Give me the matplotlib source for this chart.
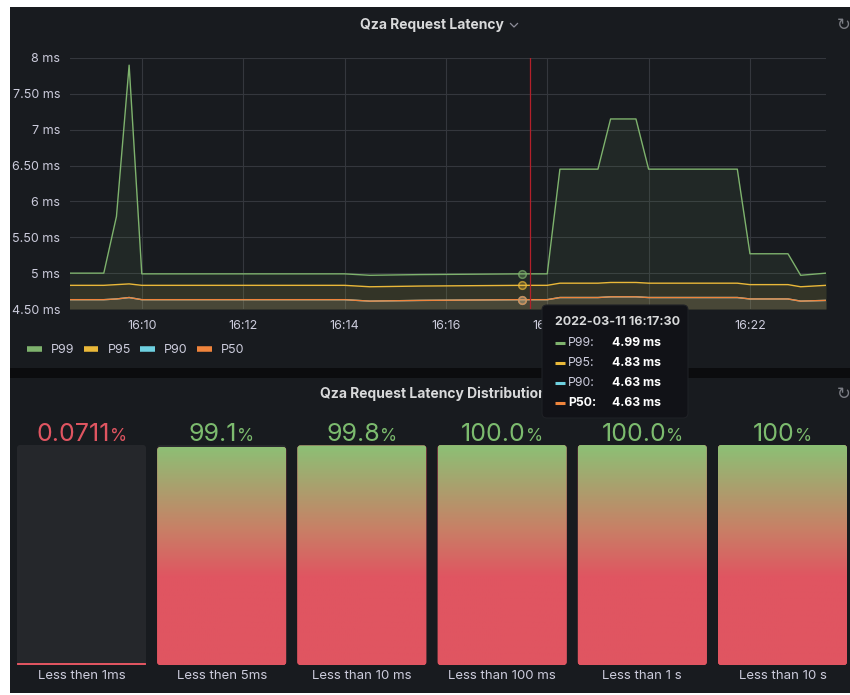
import numpy as np
import pandas as pd
import matplotlib
matplotlib.use("Agg")
import matplotlib.pyplot as plt
from matplotlib.patches import Rectangle, FancyBboxPatch
from matplotlib.lines import Line2D
from matplotlib.colors import LinearSegmentedColormap, to_rgba
import matplotlib.dates as mdates
from matplotlib.ticker import FuncFormatter, MultipleLocator

plt.rcParams['font.family'] = ['Inter', 'DejaVu Sans']

W, H = 850, 695

# --- data: latency percentiles (ms) ---
day = '2022-03-11'
times = ['16:08:30', '16:09:15', '16:09:30', '16:09:45', '16:10:00', '16:14:00',
         '16:14:30', '16:15:30', '16:17:30', '16:18:00', '16:18:15', '16:19:00',
         '16:19:15', '16:19:45', '16:20:00', '16:21:45', '16:22:00', '16:22:45',
         '16:23:00', '16:23:30']
p99 = [5.00, 5.00, 5.79, 7.90, 4.99, 4.99, 4.97, 4.98, 4.99, 4.99, 6.45, 6.45,
       7.15, 7.15, 6.45, 6.45, 5.27, 5.27, 4.97, 5.00]
p95 = [4.83, 4.83, 4.84, 4.85, 4.83, 4.83, 4.81, 4.82, 4.83, 4.83, 4.86, 4.86,
       4.87, 4.87, 4.86, 4.86, 4.84, 4.84, 4.81, 4.83]
p90 = [4.63, 4.63, 4.64, 4.66, 4.63, 4.63, 4.61, 4.62, 4.63, 4.63, 4.66, 4.66,
       4.67, 4.67, 4.66, 4.66, 4.64, 4.64, 4.61, 4.62]
p50 = [4.63, 4.63, 4.64, 4.66, 4.63, 4.63, 4.61, 4.62, 4.63, 4.63, 4.66, 4.66,
       4.67, 4.67, 4.66, 4.66, 4.64, 4.64, 4.61, 4.62]
series_names = ['P99', 'P95', 'P90', 'P50']
series_colors = ['#7eb26d', '#eab839', '#6ed0e0', '#ef843c']
view_start, view_end = '16:08:35', '16:23:30'
hover_time = '16:17:30'
annotation_time = '16:17:40'

# --- data: latency distribution (%) ---
bucket_labels = ['Less then 1ms', 'Less then 5ms', 'Less than 10 ms',
                 'Less than 100 ms', 'Less than 1 s', 'Less than 10 s']
bucket_percent = [0.0711, 99.1, 99.8, 99.96, 99.98, 100.0]
bucket_text = ['0.0711', '99.1', '99.8', '100.0', '100.0', '100']
threshold = 80

PANEL = '#181b1f'
TXT = '#ccccdc'
RED = '#e05561'
GREEN = '#7cbb6e'


def px_axes(x0, y0, x1, y1, **kw):
    return fig.add_axes([x0 / W, 1 - y1 / H, (x1 - x0) / W, (y1 - y0) / H], **kw)


def ts(s):
    return pd.Timestamp(f'{day} {s}')


fig = plt.figure(figsize=(W / 100, H / 100), dpi=100, facecolor='white')

# background / panels
bg = fig.add_axes([0, 0, 1, 1], zorder=-5)
bg.set_xlim(0, W)
bg.set_ylim(H, 0)
bg.axis('off')
bg.add_patch(Rectangle((10, 7), W - 10, 686, color='#0b0c0e', lw=0))
bg.add_patch(Rectangle((10, 7), W - 10, 361, color=PANEL, lw=0))
bg.add_patch(Rectangle((10, 378), W - 10, 315, color=PANEL, lw=0))

# panel titles
bg.text(432, 25, 'Qza Request Latency', ha='center', va='center',
        fontsize=10, fontweight='bold', color='#d8d9da')
bg.plot([510.5, 514, 517.5], [23.5, 27, 23.5], color='#8e8e9a', lw=0.9)
bg.text(433, 394, 'Qza Request Latency Distribution', ha='center', va='center',
        fontsize=10, fontweight='bold', color='#d8d9da')
for yy in (25, 394):
    bg.text(844, yy, '\u21bb', ha='center', va='center', fontsize=12,
            color='#7b7d84', family='DejaVu Sans')

# --- time series ---
t = pd.to_datetime([f'{day} {s}' for s in times])
ax = px_axes(70, 58, 826, 309)
ax.set_facecolor('none')
values = [p99, p95, p90, p50]
for name, vals, c in zip(series_names, values, series_colors):
    ax.fill_between(t, vals, 4.5, color=c, alpha=0.09, lw=0)
    ax.plot(t, vals, color=c, lw=1.0, label=name)

ax.axvline(ts(annotation_time), color='#b3202a', lw=0.9)
hi = times.index(hover_time)
for vals, c in zip(values, series_colors):
    ax.plot([ts(hover_time)], [vals[hi]], 'o', ms=5.5, mfc=to_rgba(c, 0.3),
            mec=to_rgba(c, 0.7), mew=1.1, zorder=5)

ax.set_xlim(ts(view_start), ts(view_end))
ax.set_ylim(4.5, 8)
ax.yaxis.set_major_locator(MultipleLocator(0.5))
ax.yaxis.set_major_formatter(FuncFormatter(
    lambda v, p: f'{v:.0f} ms' if abs(v - round(v)) < 1e-9 else f'{v:.2f} ms'))
ax.xaxis.set_major_locator(mdates.MinuteLocator(byminute=range(0, 60, 2)))
ax.xaxis.set_major_formatter(mdates.DateFormatter('%H:%M'))
ax.grid(color='#34373d', lw=0.8)
ax.set_axisbelow(True)
for s in ax.spines.values():
    s.set_visible(False)
ax.tick_params(length=0, colors=TXT, labelsize=9)
ax.tick_params(axis='y', pad=7)
ax.tick_params(axis='x', pad=8)

handles = [Line2D([], [], color=c, lw=4, solid_capstyle='butt') for c in series_colors]
ax.legend(handles, series_names, loc='center left', ncol=4, frameon=False,
          bbox_to_anchor=(21 / W, 1 - 350 / H), bbox_transform=fig.transFigure,
          borderpad=0, handlelength=1.15, handletextpad=0.75, columnspacing=0.75,
          fontsize=9, labelcolor=TXT)

# --- bar gauges ---
slot = 140.2
bw_px = 129
bx = px_axes(81.5 - slot / 2, 445, 81.5 + 5.5 * slot, 665)
bx.set_facecolor('none')
bx.axis('off')
bx.set_xlim(-0.5, 5.5)
bx.set_ylim(0, 100)
bw = bw_px / slot
x_per_px = 1 / slot
y_per_px = 100 / 220
r_px = 3
aspect = y_per_px / x_per_px

cmap = LinearSegmentedColormap.from_list(
    'grad', [(0, RED), (0.40, RED), (0.62, '#c88066'), (1.0, '#8cc075')])
grad = np.linspace(0, 1, 256).reshape(-1, 1)
renderer = fig.canvas.get_renderer()

for i, (lab, pct, txt) in enumerate(zip(bucket_labels, bucket_percent, bucket_text)):
    x0 = i - bw / 2
    box = FancyBboxPatch((x0, 0), bw, 100, boxstyle=f'round,pad=0,rounding_size={r_px * x_per_px}',
                         mutation_aspect=aspect, fc='#25272b', ec='none', zorder=1)
    bx.add_patch(box)
    h = max(pct, 0.9)
    bar = FancyBboxPatch((x0, 0), bw, h, boxstyle=f'round,pad=0,rounding_size={min(r_px * x_per_px, h / aspect / 2)}',
                         mutation_aspect=aspect, fc=RED, ec='none', zorder=2)
    bx.add_patch(bar)
    im = bx.imshow(grad, extent=(x0, x0 + bw, 0, 100), origin='lower', cmap=cmap,
                   aspect='auto', interpolation='bilinear', zorder=3)
    im.set_clip_path(bar)

    col = GREEN if pct >= threshold else RED
    t1 = bx.annotate(txt, (i, 100), xytext=(0, 4), textcoords='offset pixels',
                     ha='left', va='baseline', fontsize=18, color=col)
    t2 = bx.annotate('%', (i, 100), xytext=(0, 4), textcoords='offset pixels',
                     ha='left', va='baseline', fontsize=12.5, color=col)
    w1 = t1.get_window_extent(renderer).width
    w2 = t2.get_window_extent(renderer).width
    t1.set_position((-(w1 + w2) / 2, 4))
    t2.set_position((-(w1 + w2) / 2 + w1, 4))
    bx.annotate(lab, (i, 0), xytext=(0, -11), textcoords='offset pixels',
                ha='center', va='center', fontsize=9.5, color=TXT)

bx.set_xlim(-0.5, 5.5)
bx.set_ylim(0, 100)

# --- tooltip ---
ov = fig.add_axes([0, 0, 1, 1], zorder=10)
ov.set_xlim(0, W)
ov.set_ylim(H, 0)
ov.axis('off')
ov.patch.set_alpha(0)
ov.add_patch(FancyBboxPatch((542, 305), 146, 113, boxstyle='round,pad=0,rounding_size=5',
                            fc='#111217', ec='#1f2126', lw=0.8))
ov.text(555, 322, f'{day} {hover_time}', ha='left', va='center', fontsize=9,
        fontweight='bold', color='#d8d9da')
for k, (name, vals, c) in enumerate(zip(series_names, values, series_colors)):
    yy = 343 + 20 * k
    last = k == len(series_names) - 1
    ov.plot([555, 565], [yy, yy], color=c, lw=2.2, solid_capstyle='butt')
    ov.text(568, yy, f'{name}:', ha='left', va='center', fontsize=8.8,
            color='white' if last else TXT, fontweight='bold' if last else 'normal')
    ov.text(612, yy, f'{vals[hi]:.2f} ms', ha='left', va='center', fontsize=8.8,
            color='white', fontweight='bold')

fig.savefig('out.png', dpi=100, facecolor='white')
